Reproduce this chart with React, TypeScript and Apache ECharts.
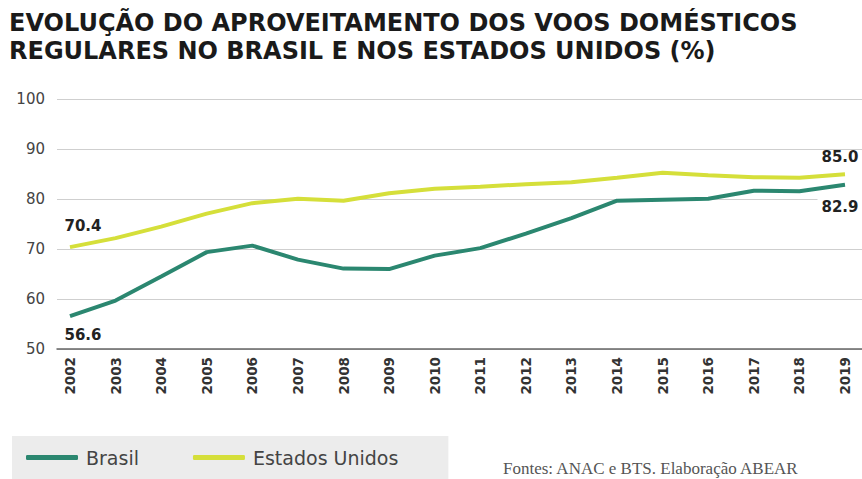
import React, { useEffect, useRef } from "react";
import * as echarts from "echarts";

const years = [2002, 2003, 2004, 2005, 2006, 2007, 2008, 2009, 2010, 2011, 2012, 2013, 2014, 2015, 2016, 2017, 2018, 2019];
const brasil = [56.6, 59.7, 64.5, 69.4, 70.7, 67.9, 66.1, 66.0, 68.7, 70.2, 73.1, 76.2, 79.7, 79.9, 80.1, 81.7, 81.6, 82.9];
const estadosUnidos = [70.4, 72.2, 74.5, 77.1, 79.2, 80.1, 79.7, 81.2, 82.1, 82.5, 83.0, 83.4, 84.3, 85.3, 84.8, 84.4, 84.3, 85.0];
const yTicks = [50, 60, 70, 80, 90, 100];
const titleLines = [
  "EVOLUÇÃO DO APROVEITAMENTO DOS VOOS DOMÉSTICOS",
  "REGULARES NO BRASIL E NOS ESTADOS UNIDOS (%)",
];

const TEAL = "#2b8770";
const YELLOW = "#d5df3a";
const FONT = "DejaVu Sans";

export default function App() {
  const ref = useRef<HTMLDivElement>(null);
  useEffect(() => {
    if (!ref.current) return;
    const chart = echarts.init(ref.current, null, { renderer: "svg" });
    const lastIdx = years.length - 1;
    const labelStyle = { fontFamily: FONT, fontSize: 15, fontWeight: 700, color: "#222" };
    const mk = (vals: number[], firstOff: number[], lastOff: number[], lastBg: boolean) =>
      vals.map((v, i) => {
        const item: any = { value: [years[i], v] };
        if (i === 0 || i === lastIdx) {
          item.label = {
            show: true,
            position: "inside",
            offset: i === 0 ? firstOff : lastOff,
            formatter: () => v.toFixed(1),
            ...labelStyle,
            ...(i === lastIdx && lastBg ? { backgroundColor: "#fff", padding: [2, 4] } : {}),
          };
        }
        return item;
      });
    chart.setOption({
      animation: false,
      title: titleLines.map((t, i) => ({
        text: t,
        left: 9,
        top: 10 + i * 28,
        padding: 0,
        textStyle: { fontFamily: FONT, fontSize: 24, fontWeight: "bold", color: "#1a1a1a", lineHeight: 26 },
      })),
      grid: { left: 57, right: 0, top: 99.3, bottom: 130, containLabel: false },
      xAxis: {
        type: "value",
        min: 2001.715,
        max: 2019.373,
        splitLine: { show: false },
        axisTick: { show: false },
        axisLine: { show: true, lineStyle: { color: "#666", width: 1.5 } },
        axisLabel: {
          customValues: years,
          rotate: 90,
          margin: 8,
          fontFamily: FONT,
          fontSize: 13.5,
          fontWeight: "bold",
          color: "#333",
          formatter: (v: number) => String(v),
        },
      },
      yAxis: {
        type: "value",
        min: yTicks[0],
        max: yTicks[yTicks.length - 1],
        interval: 10,
        axisLine: { show: false },
        axisTick: { show: false },
        splitLine: { lineStyle: { color: "#cfcfcf", width: 1.2 } },
        axisLabel: {
          margin: 12,
          fontFamily: FONT,
          fontSize: 15,
          color: "#444",
          padding: [0, 0, 6, 0],
        },
      },
      legend: {
        left: 12,
        top: 436,
        padding: [12, 50, 12, 14],
        itemGap: 54,
        itemWidth: 52,
        itemHeight: 5,
        icon: "roundRect",
        backgroundColor: "#ececec",
        textStyle: { fontFamily: FONT, fontSize: 19, color: "#444", padding: [0, 0, 0, 3] },
        data: ["Brasil", "Estados Unidos"],
      },
      graphic: [
        {
          type: "text",
          left: 503,
          top: 460,
          style: {
            text: "Fontes: ANAC e BTS. Elaboração ABEAR",
            fontFamily: "Liberation Serif",
            fontSize: 17,
            fill: "#555",
          },
        },
      ],
      series: [
        {
          name: "Estados Unidos",
          type: "line",
          data: mk(estadosUnidos, [13, -21], [-5, -17], false),
          symbol: "circle",
          symbolSize: 0,
          showSymbol: true,
          lineStyle: { color: YELLOW, width: 4 },
          itemStyle: { color: YELLOW },
          z: 3,
        },
        {
          name: "Brasil",
          type: "line",
          data: mk(brasil, [13, 19], [-5, 22], true),
          symbol: "circle",
          symbolSize: 0,
          showSymbol: true,
          lineStyle: { color: TEAL, width: 4 },
          itemStyle: { color: TEAL },
          z: 4,
        },
      ],
    });
    return () => chart.dispose();
  }, []);
  return <div ref={ref} style={{ position: "absolute", left: 0, top: 0, width: 862, height: 479 }} />;
}
